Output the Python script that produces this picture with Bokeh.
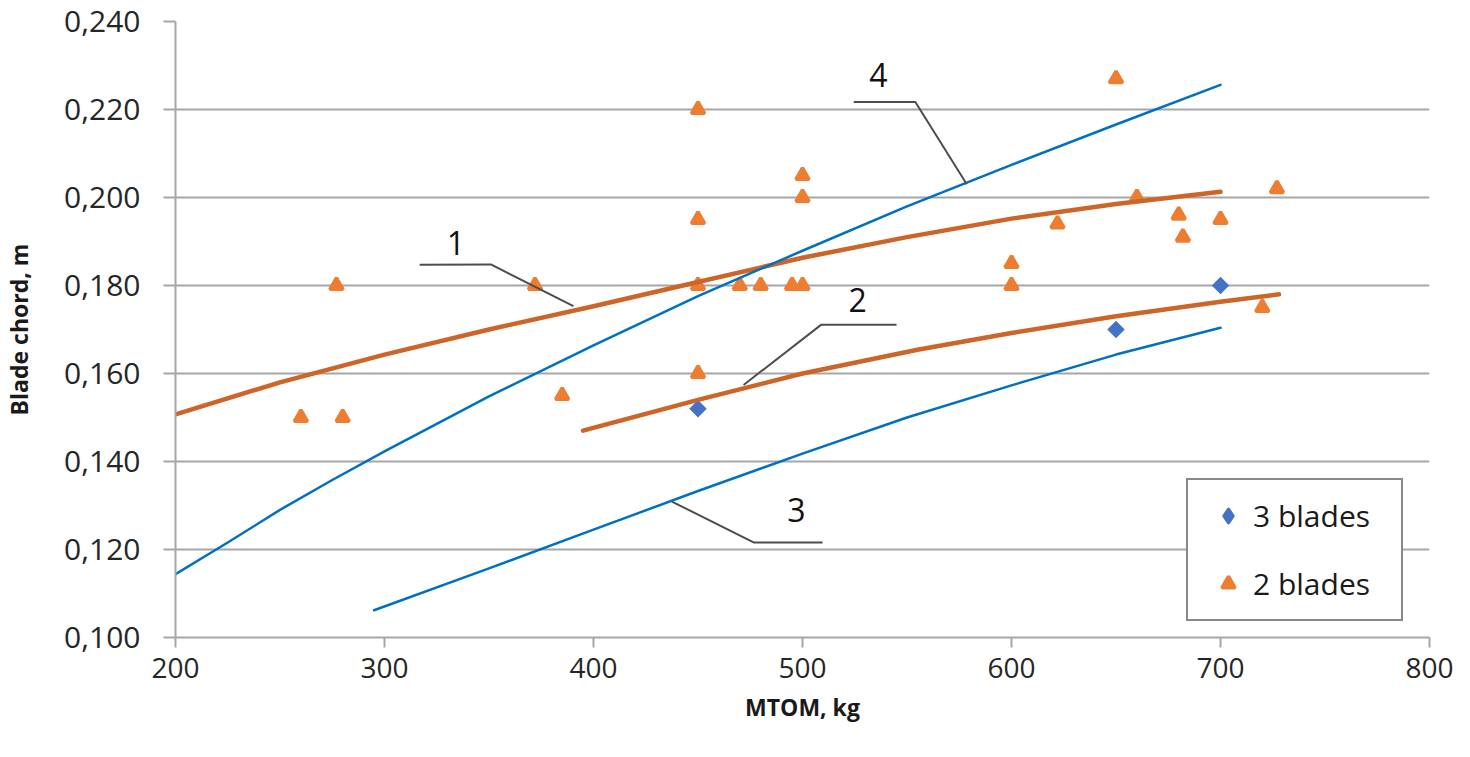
import math
from bokeh.plotting import figure
from bokeh.models import FixedTicker, Range1d, Legend, LegendItem
from bokeh.embed import file_html
from bokeh.resources import INLINE
from bokeh.core.properties import value

# ---------------- data ----------------
x_ticks = [200, 300, 400, 500, 600, 700, 800]
x_tick_labels = ["200", "300", "400", "500", "600", "700", "800"]
y_ticks = [0.100, 0.120, 0.140, 0.160, 0.180, 0.200, 0.220, 0.240]
y_tick_labels = ["0,100", "0,120", "0,140", "0,160", "0,180", "0,200", "0,220", "0,240"]

mtom_3 = [450, 650, 700]
chord_3 = [0.152, 0.170, 0.180]

mtom_2 = [260, 280, 277, 372, 385, 450, 450, 450, 450, 470, 480, 495, 500,
          500, 500, 600, 600, 622, 650, 660, 680, 682, 700, 720, 727]
chord_2 = [0.150, 0.150, 0.180, 0.180, 0.155, 0.220, 0.195, 0.180, 0.160,
           0.180, 0.180, 0.180, 0.180, 0.205, 0.200, 0.185, 0.180, 0.194,
           0.227, 0.200, 0.196, 0.191, 0.195, 0.175, 0.202]

curve1_x = [200, 250, 300, 350, 400, 450, 500, 550, 600, 650, 700]
curve1_y = [0.1507, 0.1580, 0.1643, 0.1700, 0.1753, 0.1808, 0.1863, 0.1910, 0.1952, 0.1985, 0.2013]
curve2_x = [395, 450, 500, 555, 600, 650, 700, 728]
curve2_y = [0.1470, 0.1540, 0.1600, 0.1654, 0.1692, 0.1730, 0.1763, 0.1780]
curve3_x = [295, 350, 400, 450, 500, 550, 600, 650, 700]
curve3_y = [0.1062, 0.1157, 0.1245, 0.1333, 0.1418, 0.1500, 0.1573, 0.1643, 0.1704]
curve4_x = [198, 225, 250, 275, 300, 350, 400, 450, 500, 550, 600, 650, 700]
curve4_y = [0.1138, 0.1216, 0.1290, 0.1358, 0.1423, 0.1548, 0.1664, 0.1776, 0.1879, 0.1980, 0.2074, 0.2166, 0.2256]

note_text = ["1", "2", "3", "4"]
note_x = [334.2, 526.4, 497.1, 536.3]
note_y = [0.1896, 0.1767, 0.1289, 0.2278]
leader_xs = [[316.8, 350.9, 390.4], [545.0, 509.0, 471.8], [509.6, 476.6, 437.5], [524.5, 554.0, 578.6]]
leader_ys = [[0.1847, 0.1848, 0.1753], [0.1711, 0.1711, 0.1574], [0.1216, 0.1216, 0.1309], [0.2217, 0.2217, 0.2030]]

# ---------------- figure ----------------
FONT = "Open Sans"
GRID = "#a6a6a6"
ORANGE_PT = "#ed7d31"
ORANGE_LN = "#cd6428"
BLUE_PT = "#4472c4"
BLUE_LN = "#0070c0"
MSIZE = 13.2

p = figure(width=1454, height=741, output_backend="svg", toolbar_location=None,
           x_range=Range1d(200, 800), y_range=Range1d(0.100, 0.240),
           min_border_left=164, min_border_right=25, min_border_top=21,
           min_border_bottom=104)
p.outline_line_color = None
p.background_fill_color = "white"
p.border_fill_color = "white"

p.xgrid.grid_line_color = None
p.ygrid.grid_line_color = GRID
p.ygrid.grid_line_width = 2

p.xaxis.ticker = FixedTicker(ticks=x_ticks)
p.yaxis.ticker = FixedTicker(ticks=y_ticks)
p.xaxis.major_label_overrides = {t: s for t, s in zip(x_ticks, x_tick_labels)}
p.yaxis.major_label_overrides = {t: s for t, s in zip(y_ticks, y_tick_labels)}

for ax in (p.xaxis, p.yaxis):
    ax.axis_line_color = GRID
    ax.axis_line_width = 2
    ax.major_tick_line_color = GRID
    ax.major_tick_line_width = 2
    ax.major_tick_in = 0
    ax.minor_tick_line_color = None
    ax.major_label_text_font = FONT
    ax.major_label_text_color = "#262626"
    ax.axis_label_text_font = FONT
    ax.axis_label_text_font_style = "bold"
    ax.axis_label_text_color = "#1a1a1a"
    ax.axis_label_text_font_size = "23px"

p.xaxis.major_tick_out = 10
p.yaxis.major_tick_out = 12
p.xaxis.major_label_text_font_size = "28px"
p.yaxis.major_label_text_font_size = "30px"
p.xaxis.major_label_standoff = 10
p.yaxis.major_label_standoff = 23
p.xaxis.axis_label = "MTOM, kg"
p.yaxis.axis_label = "Blade chord, m"
p.xaxis.axis_label_standoff = 10
p.yaxis.axis_label_standoff = 26

# points
r3 = p.scatter(mtom_3, chord_3, marker="square", angle=math.pi / 4, size=MSIZE * 0.94,
               fill_color=BLUE_PT, line_color=None)
r2 = p.scatter(mtom_2, chord_2, marker="triangle", size=MSIZE,
               fill_color=ORANGE_PT, line_color=ORANGE_PT, line_width=3.5)
# legend swatch for the 3-blade diamonds (legend glyphs are drawn unrotated)
r3_key = p.scatter(mtom_3, chord_3, marker="diamond", size=MSIZE,
                   fill_color=BLUE_PT, line_color=BLUE_PT, line_width=3.5, line_join="round",
                   visible=False)

# curves
p.line(curve1_x, curve1_y, line_color=ORANGE_LN, line_width=4.5, line_cap="round", line_join="round")
p.line(curve2_x, curve2_y, line_color=ORANGE_LN, line_width=4.5, line_cap="round", line_join="round")
p.line(curve3_x, curve3_y, line_color=BLUE_LN, line_width=2.5, line_cap="round", line_join="round")
p.line(curve4_x, curve4_y, line_color=BLUE_LN, line_width=2.5, line_cap="round", line_join="round")

# annotations
p.multi_line(leader_xs, leader_ys, line_color="#4d4d4d", line_width=2)
p.text(note_x, note_y, text=note_text, text_font=value(FONT), text_font_size="32px",
       text_align="center", text_baseline="middle", text_color="#111111")

legend = Legend(items=[LegendItem(label="3 blades", renderers=[r3_key]),
                       LegendItem(label="2 blades", renderers=[r2])],
                location=(1011, 16))
legend.glyph_width = 50
legend.glyph_height = 33
legend.label_height = 33
legend.label_width = 133
legend.label_standoff = 0
legend.padding = 15
legend.spacing = 27
legend.margin = 0
legend.inactive_fill_alpha = 0
legend.label_text_font = FONT
legend.label_text_font_size = "30px"
legend.label_text_color = "#1a1a1a"
legend.border_line_color = "#111111"
legend.border_line_width = 2
legend.background_fill_color = "white"
legend.background_fill_alpha = 1
p.add_layout(legend, "center")

open("out.html", "w").write(file_html(p, INLINE))
